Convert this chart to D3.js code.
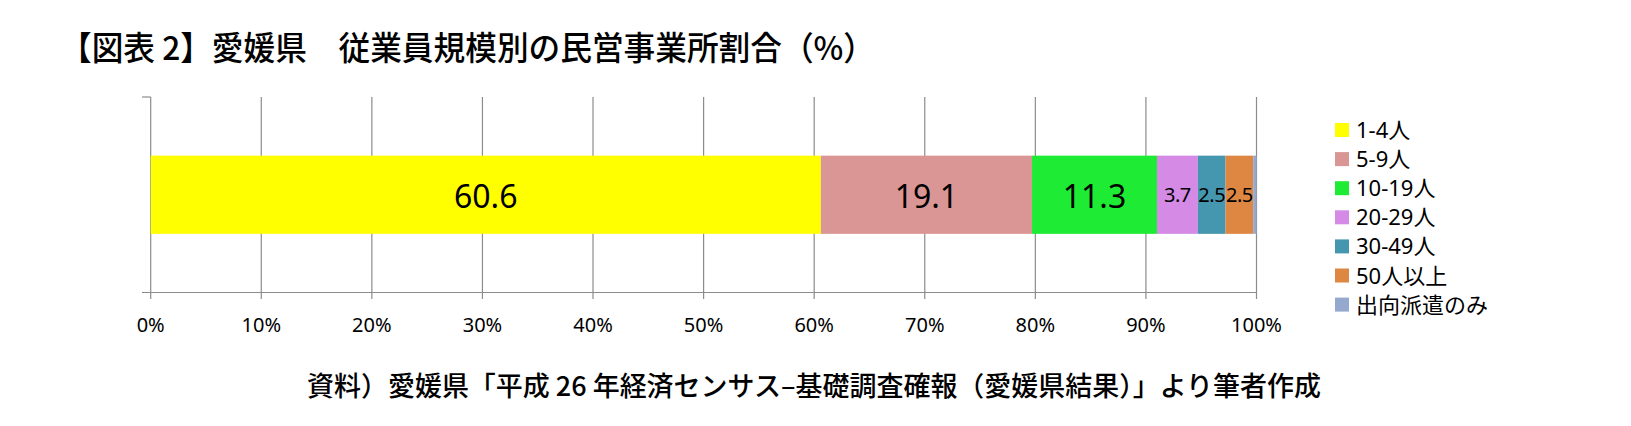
<!DOCTYPE html>
<html>
<head>
<meta charset="utf-8">
<script src="https://cdn.jsdelivr.net/npm/d3@7"></script>
<style>
  body { margin: 0; background: #fff; }
  text { font-family: "Noto Sans", "Noto Sans CJK JP", sans-serif; }
</style>
</head>
<body>
<script>
// data
var categories = ["1-4人", "5-9人", "10-19人", "20-29人", "30-49人", "50人以上", "出向派遣のみ"];
var shares = [60.6, 19.1, 11.3, 3.7, 2.5, 2.5, 0.3];
var colors = ["#ffff00", "#d99694", "#1eec34", "#d58ae6", "#4596af", "#de8743", "#95a9cf"];
var tickValues = [0, 10, 20, 30, 40, 50, 60, 70, 80, 90, 100];
var rowName = ["愛媛県"];

var w = 1631,
    h = 426;

var svg = d3.select("body").append("svg")
    .attr("width", w)
    .attr("height", h);

var x = d3.scaleLinear().domain([0, 100]).range([150.7, 1256.5]);
var y = d3.scaleBand().domain(rowName).range([97, 292.5])
    .paddingInner(0.6).paddingOuter(0.3);

// gridlines, running past the bottom axis as tick marks
svg.append("g").selectAll("line")
    .data(tickValues)
  .enter().append("line")
    .attr("x1", function(d) { return x(d); })
    .attr("x2", function(d) { return x(d); })
    .attr("y1", 97)
    .attr("y2", 299)
    .attr("stroke", "#8c8c8c")
    .attr("stroke-width", 1.2);

// bottom axis line and the two small ticks on the left
svg.append("line")
    .attr("x1", 142).attr("x2", x(100))
    .attr("y1", 292.5).attr("y2", 292.5)
    .attr("stroke", "#8c8c8c").attr("stroke-width", 1.2);
svg.append("line")
    .attr("x1", 142).attr("x2", x(0))
    .attr("y1", 97).attr("y2", 97)
    .attr("stroke", "#8c8c8c").attr("stroke-width", 1.2);

// stacked segments
var stack = [];
var acc = 0;
shares.forEach(function(v, i) {
  stack.push({ name: categories[i], value: v, x0: acc, x1: acc + v, color: colors[i] });
  acc += v;
});

svg.append("g").selectAll("rect")
    .data(stack)
  .enter().append("rect")
    .attr("x", function(d) { return x(d.x0); })
    .attr("width", function(d) { return x(d.x1) - x(d.x0); })
    .attr("y", y("愛媛県"))
    .attr("height", y.bandwidth())
    .attr("fill", function(d) { return d.color; });

// value labels (the tiny last segment has none)
svg.append("g").selectAll("text")
    .data(stack.filter(function(d) { return d.value >= 1; }))
  .enter().append("text")
    .attr("x", function(d) { return (x(d.x0) + x(d.x1)) / 2; })
    .attr("y", function(d) { return d.value > 10 ? 208 : 202; })
    .attr("text-anchor", "middle")
    .attr("font-size", function(d) { return d.value > 10 ? 32 : 20; })
    .attr("letter-spacing", function(d) { return d.value > 10 ? 0 : -0.5; })
    .attr("fill", "#000")
    .text(function(d) { return d.value.toFixed(1); });

// tick labels
svg.append("g").selectAll("text")
    .data(tickValues)
  .enter().append("text")
    .attr("x", function(d) { return x(d); })
    .attr("y", 332)
    .attr("text-anchor", "middle")
    .attr("font-size", 20)
    .attr("fill", "#000")
    .text(function(d) { return d + "%"; });

// legend
var legend = svg.append("g").selectAll("g")
    .data(categories)
  .enter().append("g")
    .attr("transform", function(d, i) { return "translate(1335," + (130 + i * 29.1) + ")"; });

legend.append("rect")
    .attr("x", 0).attr("y", -7)
    .attr("width", 14).attr("height", 14)
    .attr("fill", function(d, i) { return colors[i]; });

legend.append("text")
    .attr("x", 21).attr("y", 8)
    .attr("font-size", 22)
    .attr("fill", "#000")
    .text(function(d) { return d; });

// title
svg.append("text")
    .attr("x", 60).attr("y", 60)
    .attr("font-size", 33)
    .attr("font-weight", 500)
    .style("font-family", "'Noto Sans CJK JP', sans-serif")
    .attr("textLength", 815)
    .attr("lengthAdjust", "spacingAndGlyphs")
    .attr("fill", "#000")
    .text("【図表 2】愛媛県　従業員規模別の民営事業所割合（%）");

// source note
svg.append("text")
    .attr("x", 307).attr("y", 396)
    .attr("font-size", 27)
    .attr("font-weight", 500)
    .style("font-family", "'Noto Sans CJK JP', sans-serif")
    .attr("textLength", 1014)
    .attr("lengthAdjust", "spacingAndGlyphs")
    .attr("fill", "#000")
    .text("資料）愛媛県「平成 26 年経済センサス‒基礎調査確報（愛媛県結果）」より筆者作成");
</script>
</body>
</html>
